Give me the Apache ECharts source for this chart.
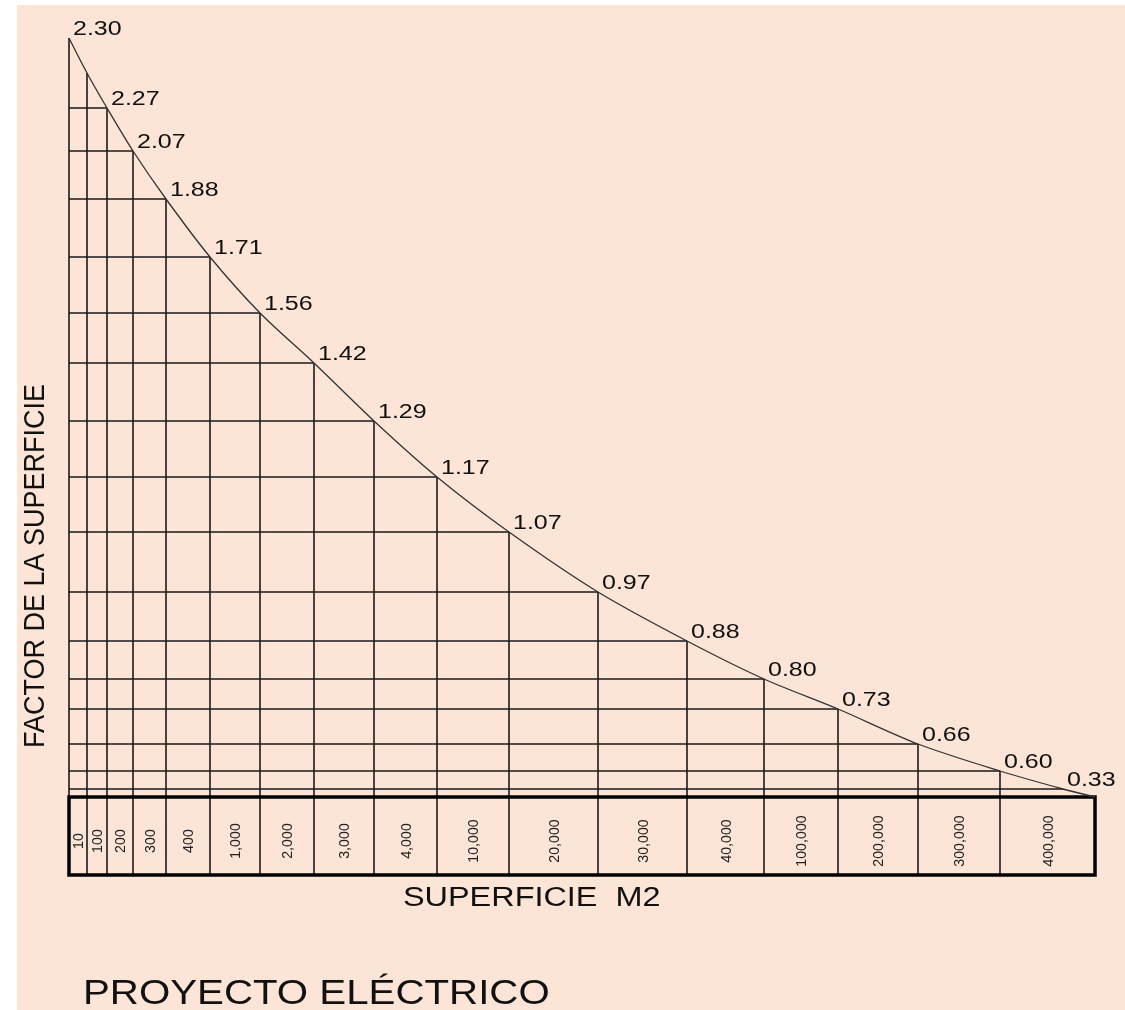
<!DOCTYPE html>
<html>
<head>
<meta charset="utf-8">
<script src="https://cdn.jsdelivr.net/npm/echarts@6/dist/echarts.min.js"></script>
<style>
  html, body { margin: 0; padding: 0; background: #fff; }
  #chart { width: 1125px; height: 1010px; }
</style>
</head>
<body>
<div id="chart"></div>
<script>
// superficie (m2) per column of the table under the curve
const areaLabels = ['10', '100', '200', '300', '400', '1,000', '2,000', '3,000', '4,000',
  '10,000', '20,000', '30,000', '40,000', '100,000', '200,000', '300,000', '400,000']
// column edges, in drawing units along the base
const columnEdges = [0, 18, 38, 64, 97, 141, 191, 245, 305, 368, 440, 529, 618, 695, 769, 849, 931, 1026]
// points of the curve (drawing units) and the factor written next to each
const curveX = [0, 18, 38, 64, 97, 141, 191, 245, 305, 368, 440, 529, 618, 695, 769, 849, 931, 994, 1026]
const curveY = [759, 724, 689, 646, 598, 540, 484, 434, 376, 320, 265, 205, 156, 118, 88, 53, 26, 8, 0]
const factorLabels = ['2.30', '', '2.27', '2.07', '1.88', '1.71', '1.56', '1.42', '1.29', '1.17',
  '1.07', '0.97', '0.88', '0.80', '0.73', '0.66', '0.60', '0.33', '']
const boxBottom = -78

const ink = '#1a1a1a'
const chart = echarts.init(document.getElementById('chart'))

function curveTop(x) {
  const i = curveX.indexOf(x)
  return i >= 0 ? curveY[i] : 0
}

chart.setOption({
  backgroundColor: '#ffffff',
  animation: false,
  grid: { left: 69, right: 30, top: 38, bottom: 135 },
  xAxis: { type: 'value', min: 0, max: 1026, show: false },
  yAxis: { type: 'value', min: boxBottom, max: 759, show: false },
  graphic: [
    {
      type: 'rect',
      z: -10,
      shape: { x: 17, y: 5, width: 1108, height: 1005 },
      style: { fill: '#fce4d6' }
    },
    {
      type: 'text',
      x: 36,
      y: 566,
      rotation: Math.PI / 2,
      scaleY: 1.12,
      style: {
        text: 'FACTOR DE LA SUPERFICIE',
        font: '27px "Liberation Sans", Arial, sans-serif',
        fill: '#111',
        align: 'center',
        verticalAlign: 'middle'
      }
    },
    {
      type: 'text',
      x: 403,
      y: 899,
      scaleX: 1.2,
      style: {
        text: 'SUPERFICIE  M2',
        font: '27px "Liberation Sans", Arial, sans-serif',
        fill: '#111',
        align: 'left',
        verticalAlign: 'middle'
      }
    },
    {
      type: 'text',
      x: 83,
      y: 994,
      scaleX: 1.15,
      style: {
        text: 'PROYECTO ELÉCTRICO',
        font: '35px "Liberation Sans", Arial, sans-serif',
        fill: '#111',
        align: 'left',
        verticalAlign: 'middle'
      }
    }
  ],
  series: [
    {
      // vertical lines, from the bottom of the table up to the curve
      type: 'custom',
      data: columnEdges.map(x => [x, curveTop(x)]),
      renderItem(params, api) {
        const a = api.coord([api.value(0), boxBottom])
        const b = api.coord([api.value(0), api.value(1)])
        return {
          type: 'line',
          shape: { x1: a[0], y1: a[1], x2: b[0], y2: b[1] },
          style: { stroke: ink, lineWidth: 1.6 }
        }
      }
    },
    {
      // horizontal lines, from the left side to each labelled point
      type: 'custom',
      data: curveX.map((x, i) => [x, curveY[i]]).filter((d, i) => i >= 2 && factorLabels[i] !== ''),
      renderItem(params, api) {
        const a = api.coord([0, api.value(1)])
        const b = api.coord([api.value(0), api.value(1)])
        return {
          type: 'line',
          shape: { x1: a[0], y1: a[1], x2: b[0], y2: b[1] },
          style: { stroke: ink, lineWidth: 1.6 }
        }
      }
    },
    {
      // the table frame
      type: 'custom',
      data: [[0, boxBottom, columnEdges[columnEdges.length - 1], 0]],
      renderItem(params, api) {
        const a = api.coord([api.value(0), api.value(1)])
        const b = api.coord([api.value(2), api.value(3)])
        return {
          type: 'rect',
          shape: { x: a[0], y: b[1], width: b[0] - a[0], height: a[1] - b[1] },
          style: { fill: 'none', stroke: '#000', lineWidth: 3.5 }
        }
      }
    },
    {
      // area labels inside the table
      type: 'custom',
      data: areaLabels.map((t, i) => [(columnEdges[i] + columnEdges[i + 1]) / 2, boxBottom / 2]),
      renderItem(params, api) {
        const p = api.coord([api.value(0), api.value(1)])
        const text = areaLabels[params.dataIndex]
        return {
          type: 'text',
          x: p[0] + 1,
          y: p[1] + 5,
          rotation: Math.PI / 2,
          scaleX: 0.95,
          style: {
            text: text,
            font: '15px "Liberation Sans", Arial, sans-serif',
            fill: '#222',
            align: 'center',
            verticalAlign: 'middle'
          }
        }
      }
    },
    {
      type: 'line',
      data: curveX.map((x, i) => [x, curveY[i]]),
      smooth: 0.3,
      symbol: 'none',
      lineStyle: { color: '#333', width: 1.3 },
      z: 3
    },
    {
      // factor written next to each point
      type: 'custom',
      data: curveX.map((x, i) => [x, curveY[i]]),
      renderItem(params, api) {
        const text = factorLabels[params.dataIndex]
        if (!text) return null
        const p = api.coord([api.value(0), api.value(1)])
        return {
          type: 'text',
          x: p[0] + 4,
          y: p[1] + 1,
          scaleX: 1.25,
          style: {
            text: text,
            font: '20px "Liberation Sans", Arial, sans-serif',
            fill: '#111',
            align: 'left',
            verticalAlign: 'bottom'
          }
        }
      },
      z: 4
    }
  ]
})
</script>
</body>
</html>
